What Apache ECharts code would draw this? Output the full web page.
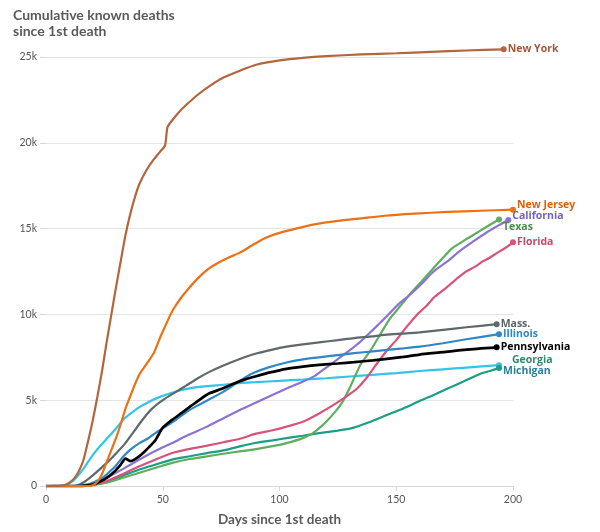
<!DOCTYPE html>
<html>
<head>
<meta charset="utf-8">
<script src="https://cdn.jsdelivr.net/npm/echarts@6/dist/echarts.min.js"></script>
<style>html,body{margin:0;padding:0;background:#fff}#c{width:600px;height:532px}</style>
</head>
<body>
<div id="c"></div>
<script>
// [day since 1st death, cumulative deaths]
const newYork = [[0,0],[5,10],[8,60],[10,200],[12,430],[14,850],[16,1500],[18,2600],[20,3800],[22,5200],[24,6700],[26,8400],[28,10000],[30,11600],[32,13100],[34,14600],[36,15800],[38,16800],[40,17600],[43,18400],[46,19000],[49,19500],[51,19850],[52,20900],[54,21300],[57,21800],[60,22200],[65,22800],[70,23300],[76,23800],[83,24200],[90,24550],[100,24800],[110,24950],[120,25050],[135,25150],[150,25220],[165,25300],[180,25380],[196,25450]];
const newJersey = [[0,0],[18,0],[20,50],[22,250],[24,700],[26,1400],[28,2100],[30,2800],[32,3600],[34,4500],[36,5200],[38,5900],[40,6500],[43,7100],[46,7700],[49,8700],[51,9300],[53,9900],[55,10400],[58,11000],[61,11500],[65,12100],[69,12600],[73,12950],[78,13300],[83,13600],[88,14000],[93,14400],[100,14750],[107,15000],[115,15250],[125,15450],[135,15600],[145,15750],[158,15870],[172,15970],[186,16040],[200,16100]];
const california = [[0,0],[15,0],[20,100],[26,480],[33,1000],[40,1540],[47,2050],[54,2500],[61,2980],[69,3460],[76,3950],[83,4430],[89,4810],[96,5250],[103,5680],[110,6080],[115,6400],[120,6900],[125,7400],[130,7900],[135,8450],[140,9100],[146,9900],[151,10600],[156,11160],[161,11800],[166,12500],[172,13100],[177,13670],[183,14250],[189,14800],[194,15200],[198,15500]];
const texas = [[0,0],[14,0],[20,60],[26,190],[33,480],[40,770],[47,1060],[54,1350],[61,1560],[69,1730],[76,1880],[83,2020],[90,2150],[97,2320],[103,2500],[110,2790],[114,3050],[117,3370],[120,3750],[124,4350],[127,4900],[130,5700],[132,6300],[135,7150],[139,7900],[143,8800],[147,9700],[150,10200],[153,10700],[157,11360],[161,11950],[166,12700],[170,13300],[174,13860],[179,14300],[183,14630],[188,15050],[194,15530]];
const florida = [[0,0],[12,0],[16,30],[20,120],[26,290],[33,700],[40,1150],[47,1550],[54,1920],[61,2150],[69,2350],[76,2550],[83,2750],[90,3050],[97,3250],[103,3460],[110,3750],[117,4230],[124,4800],[129,5250],[133,5650],[137,6250],[141,7000],[146,7900],[150,8500],[154,9200],[159,10000],[163,10500],[166,10970],[170,11400],[173,11740],[177,12200],[180,12510],[184,12800],[187,13090],[190,13300],[193,13570],[197,13900],[200,14200]];
const massachusetts = [[0,0],[10,0],[13,20],[16,200],[19,500],[22,850],[26,1350],[30,1900],[34,2500],[37,3050],[41,3800],[45,4450],[50,5000],[55,5430],[60,5850],[65,6280],[70,6650],[76,7020],[83,7400],[90,7720],[97,7950],[103,8120],[110,8250],[117,8370],[125,8500],[132,8620],[140,8720],[146,8820],[153,8880],[160,8950],[170,9100],[180,9250],[193,9430]];
const illinois = [[0,0],[12,0],[15,30],[18,100],[21,250],[24,450],[27,800],[30,1200],[33,1700],[36,2100],[40,2500],[44,2800],[47,3100],[51,3450],[55,3800],[60,4300],[65,4700],[70,5050],[76,5500],[80,5850],[85,6300],[89,6600],[95,6900],[103,7200],[110,7380],[117,7500],[125,7630],[132,7740],[140,7850],[146,7930],[153,8020],[160,8120],[170,8320],[180,8550],[194,8850]];
const pennsylvania = [[0,0],[14,0],[17,20],[20,80],[23,250],[26,480],[29,800],[32,1250],[34,1600],[36,1450],[38,1550],[41,1850],[44,2250],[47,2700],[50,3400],[54,3850],[58,4250],[62,4650],[66,5050],[70,5400],[75,5650],[80,5950],[85,6200],[90,6400],[96,6620],[103,6830],[110,6960],[117,7060],[125,7140],[132,7220],[140,7320],[146,7410],[153,7520],[160,7660],[170,7800],[180,7950],[193,8080]];
const georgia = [[0,0],[14,0],[18,40],[22,120],[26,230],[33,600],[40,960],[47,1250],[54,1540],[61,1720],[69,1920],[76,2080],[83,2310],[90,2520],[97,2660],[103,2790],[110,2930],[117,3080],[125,3230],[131,3370],[138,3700],[146,4140],[153,4520],[160,4950],[166,5300],[172,5680],[179,6100],[186,6540],[190,6700],[194,6870]];
const michigan = [[0,0],[6,0],[8,30],[10,150],[12,350],[14,650],[16,1000],[18,1400],[20,1800],[23,2300],[26,2750],[30,3350],[33,3850],[36,4200],[40,4600],[44,4900],[48,5150],[52,5350],[56,5520],[62,5700],[69,5820],[76,5900],[83,6000],[90,6050],[100,6130],[110,6200],[120,6280],[130,6380],[140,6480],[150,6580],[160,6700],[170,6800],[180,6900],[194,7040]];
const yTicks = [0, 5000, 10000, 15000, 20000, 25000];
const xTicks = [0, 50, 100, 150, 200];

const FONT = '"Open Sans", "Noto Sans", sans-serif';
const TFONT = 'Lato, "Open Sans", sans-serif';
function mk(name, label, data, color, labelColor, offset, width) {
  const d = data.map((p, i) => i === data.length - 1
    ? { value: p, symbol: 'circle', symbolSize: 6 }
    : { value: p });
  return {
    name: name, type: 'line', data: d, symbol: 'none', showSymbol: true, showAllSymbol: true,
    clip: false, smooth: 0.2,
    lineStyle: { color: color, width: width || 2.2 },
    itemStyle: { color: color },
    endLabel: { show: true, formatter: label, color: labelColor, fontWeight: 'bold', fontSize: 10.5,
      fontFamily: FONT, offset: offset, distance: 4 },
    emphasis: { disabled: true }, animation: false
  };
}
const chart = echarts.init(document.getElementById('c'), null, { renderer: 'canvas' });
chart.setOption({
  animation: false,
  title: { text: 'Cumulative known deaths\nsince 1st death', left: 8, top: 2,
    textStyle: { fontFamily: TFONT, fontSize: 14, fontWeight: 'bold', color: '#5a5a5a', lineHeight: 16 } },
  grid: { left: 46, right: 87, top: 57, bottom: 42 },
  xAxis: {
    type: 'value', min: 0, max: 200, interval: 50,
    name: 'Days since 1st death', nameLocation: 'middle', nameGap: 27,
    nameTextStyle: { fontFamily: TFONT, fontSize: 13.5, fontWeight: 'bold', color: '#5a5a5a' },
    axisLine: { show: true, lineStyle: { color: '#d8d8d8' } },
    axisTick: { show: true, length: 5, lineStyle: { color: '#d8d8d8' } },
    axisLabel: { fontFamily: TFONT, fontSize: 10.5, color: '#555', margin: 8,
      formatter: v => xTicks.includes(v) ? String(v) : '' },
    splitLine: { show: false }
  },
  yAxis: {
    type: 'value', min: 0, max: 25000, interval: 5000,
    axisLine: { show: false },
    axisTick: { show: true, length: 6, lineStyle: { color: '#d8d8d8' } },
    axisLabel: { fontFamily: TFONT, fontSize: 10.5, color: '#555', margin: 9,
      formatter: v => yTicks.includes(v) ? (v === 0 ? '0' : (v / 1000) + 'k') : '' },
    splitLine: { show: true, lineStyle: { color: '#e4e4e4' } }
  },
  series: [
    mk('Michigan', 'Michigan', michigan, '#35c3e8', '#2b7f98', [0, 6]),
    mk('Georgia', 'Georgia', georgia, '#1a9e84', '#2c8a6e', [9, -8]),
    mk('Texas', 'Texas', texas, '#5fae5f', '#4b8a4f', [0, 8]),
    mk('Florida', 'Florida', florida, '#d9527a', '#d0456a', [0, 0]),
    mk('California', 'California', california, '#8b73d4', '#7560c6', [0, -4]),
    mk('Massachusetts', 'Mass.', massachusetts, '#5f686b', '#5a6468', [0, 0]),
    mk('Illinois', 'Illinois', illinois, '#2f87c4', '#2f87c4', [0, 0]),
    mk('Pennsylvania', 'Pennsylvania', pennsylvania, '#000000', '#000000', [0, 0], 2.7),
    mk('New Jersey', 'New Jersey', newJersey, '#ec7014', '#d9640f', [0, -5]),
    mk('New York', 'New York', newYork, '#b3653d', '#a5593a', [0, 0])
  ]
});
</script>
</body>
</html>
